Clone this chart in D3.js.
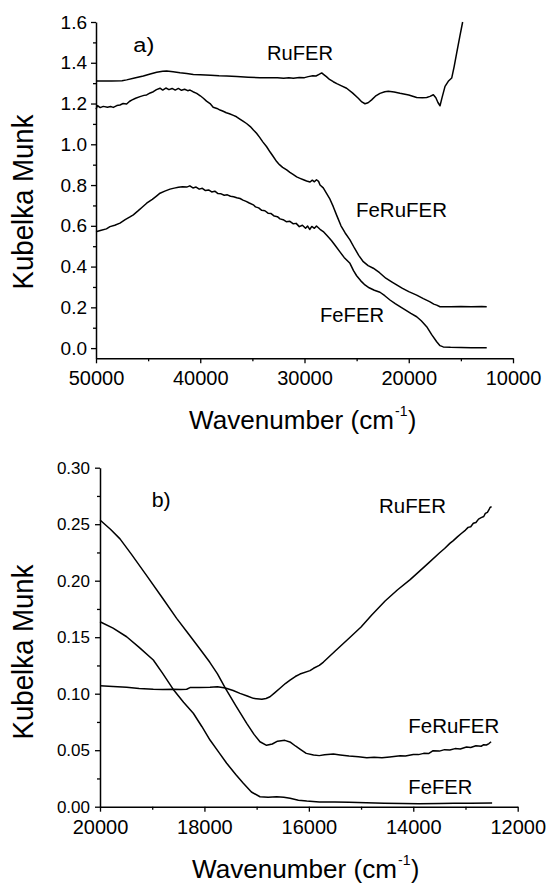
<!DOCTYPE html>
<html><head><meta charset="utf-8">
<script src="https://cdn.jsdelivr.net/npm/d3@7"></script>
<style>
html,body{margin:0;padding:0;background:#fff;}
svg{display:block;}
text{font-family:"Liberation Sans",Arial,Helvetica,sans-serif;fill:#000;}
</style></head><body>
<svg id="chart" width="547" height="886"></svg>
<script>
// ---------- Panel a) : 50000 - 10000 cm-1 ----------
const aXTicks = [50000, 40000, 30000, 20000, 10000];
const aXMinor = [45000, 35000, 25000, 15000];
const aYTicks = [0, 0.2, 0.4, 0.6, 0.8, 1.0, 1.2, 1.4, 1.6];
const aYMinor = [0.1, 0.3, 0.5, 0.7, 0.9, 1.1, 1.3, 1.5];

const aRuFER = [[50000,1.311],[48500,1.311],[47500,1.312],[47060,1.316],[46300,1.325],[45460,1.335],[44800,1.345],[44180,1.353],[43600,1.358],[43220,1.36],[42600,1.356],[41940,1.351],[41300,1.347],[40660,1.343],[40000,1.341],[39000,1.339],[38200,1.336],[37460,1.335],[36500,1.332],[35400,1.329],[34260,1.327],[33300,1.326],[32600,1.327],[32000,1.324],[31500,1.327],[31070,1.324],[30500,1.328],[30000,1.327],[29640,1.332],[29200,1.336],[28900,1.335],[28600,1.343],[28350,1.35],[28150,1.342],[27900,1.332],[27600,1.318],[27240,1.307],[26900,1.298],[26500,1.288],[25960,1.275],[25400,1.252],[24840,1.226],[24500,1.208],[24200,1.199],[23900,1.204],[23560,1.218],[23200,1.236],[22760,1.25],[22300,1.258],[21960,1.26],[21400,1.257],[20840,1.25],[20000,1.242],[19240,1.23],[18700,1.228],[18280,1.23],[17960,1.235],[17640,1.243],[17400,1.228],[17200,1.205],[17000,1.189],[16800,1.23],[16520,1.284],[16210,1.309],[15880,1.325],[15650,1.38],[15400,1.448],[15100,1.53],[14830,1.6]];

const aFeRuFER = [[50000,1.172],[49850,1.19],[49600,1.18],[49300,1.186],[48900,1.182],[48600,1.185],[48340,1.181],[48000,1.19],[47700,1.193],[47400,1.2],[47060,1.198],[46800,1.21],[46580,1.217],[46200,1.226],[45780,1.234],[45400,1.24],[45140,1.242],[44800,1.252],[44500,1.258],[44200,1.268],[43860,1.275],[43600,1.266],[43300,1.276],[43000,1.268],[42700,1.274],[42400,1.266],[42100,1.274],[41800,1.265],[41500,1.27],[41200,1.263],[40980,1.266],[40700,1.258],[40340,1.25],[40000,1.238],[39700,1.226],[39400,1.212],[39060,1.2],[38760,1.182],[38400,1.176],[38100,1.168],[37800,1.162],[37500,1.155],[37200,1.15],[36820,1.142],[36520,1.135],[36200,1.124],[35900,1.114],[35560,1.102],[35200,1.087],[34900,1.07],[34600,1.054],[34300,1.034],[34000,1.012],[33630,0.988],[33300,0.962],[33000,0.94],[32670,0.915],[32400,0.9],[32100,0.887],[31710,0.874],[31400,0.862],[31100,0.852],[30750,0.84],[30430,0.833],[30100,0.826],[29800,0.82],[29470,0.815],[29250,0.824],[29050,0.816],[28850,0.826],[28650,0.818],[28510,0.8],[28200,0.786],[27900,0.76],[27600,0.735],[27240,0.694],[26900,0.65],[26500,0.6],[26100,0.565],[25640,0.531],[25200,0.49],[24800,0.455],[24360,0.424],[23900,0.405],[23400,0.392],[22800,0.37],[22200,0.343],[21600,0.324],[21160,0.31],[20600,0.293],[20000,0.277],[19240,0.26],[18600,0.243],[18000,0.228],[17600,0.216],[17320,0.211],[17000,0.203],[16000,0.203],[15000,0.204],[14000,0.203],[13000,0.204],[12520,0.203]];

const aFeFER = [[50000,0.571],[49500,0.578],[49000,0.585],[48660,0.596],[48200,0.603],[47700,0.613],[47200,0.63],[46700,0.645],[46420,0.654],[46000,0.672],[45600,0.69],[45140,0.711],[44600,0.73],[44200,0.746],[43860,0.76],[43400,0.77],[42900,0.78],[42500,0.785],[42100,0.789],[41700,0.792],[41300,0.79],[41000,0.796],[40700,0.786],[40400,0.79],[40100,0.78],[39800,0.784],[39500,0.773],[39200,0.776],[38900,0.766],[38600,0.77],[38300,0.758],[38000,0.757],[37700,0.75],[37400,0.752],[37100,0.745],[36800,0.743],[36500,0.738],[36180,0.734],[35900,0.726],[35600,0.72],[35300,0.712],[34910,0.703],[34700,0.693],[34400,0.688],[34100,0.676],[33800,0.674],[33500,0.662],[33200,0.66],[32900,0.648],[32600,0.645],[32350,0.634],[32050,0.63],[31750,0.62],[31400,0.622],[31070,0.61],[30800,0.612],[30500,0.596],[30200,0.603],[29900,0.588],[29700,0.599],[29500,0.582],[29300,0.597],[29050,0.588],[28850,0.599],[28510,0.583],[28200,0.572],[27800,0.55],[27400,0.527],[27000,0.5],[26600,0.472],[26200,0.445],[25640,0.416],[25300,0.38],[25000,0.355],[24600,0.33],[24200,0.31],[23800,0.296],[23300,0.284],[22760,0.274],[22300,0.257],[21800,0.236],[21300,0.218],[20840,0.203],[20300,0.186],[19800,0.17],[19240,0.154],[18800,0.134],[18280,0.105],[17800,0.066],[17320,0.031],[17000,0.012],[16690,0.006],[16000,0.004],[15000,0.003],[14000,0.002],[13000,0.002],[12520,0.002]];

const aLabels = [
  {text: "a)", w: 46420, v: 1.453, len: 21},
  {text: "RuFER", w: 33600, v: 1.413, len: 66},
  {text: "FeRuFER", w: 25060, v: 0.645, len: 91},
  {text: "FeFER", w: 28510, v: 0.127, len: 64}
];

// ---------- Panel b) : 20000 - 12000 cm-1 ----------
const bXTicks = [20000, 18000, 16000, 14000, 12000];
const bXMinor = [19000, 17000, 15000, 13000];
const bYTicks = [0, 0.05, 0.10, 0.15, 0.20, 0.25, 0.30];
const bYMinor = [0.025, 0.075, 0.125, 0.175, 0.225, 0.275];

const bRuFER = [[20000,0.107],[19750,0.1063],[19490,0.1057],[19250,0.1047],[18979,0.1039],[18800,0.1037],[18600,0.104],[18450,0.1038],[18340,0.1039],[18276,0.1054],[18100,0.1055],[17893,0.1057],[17750,0.1062],[17600,0.105],[17450,0.1028],[17319,0.1003],[17180,0.098],[17062,0.0959],[16900,0.095],[16820,0.0958],[16744,0.0973],[16650,0.101],[16553,0.1048],[16450,0.109],[16360,0.1121],[16260,0.1152],[16170,0.1174],[15978,0.1204],[15910,0.1225],[15800,0.125],[15720,0.128],[15500,0.1375],[15210,0.150],[15000,0.159],[14800,0.1695],[14540,0.182],[14300,0.192],[14060,0.201],[13890,0.208],[13700,0.216],[13500,0.2245],[13400,0.2285],[13300,0.233],[13233,0.2355],[13150,0.239],[13080,0.2418],[13000,0.2448],[12950,0.2472],[12900,0.2478],[12850,0.2508],[12800,0.2515],[12750,0.2545],[12700,0.2558],[12650,0.2568],[12620,0.2595],[12580,0.2605],[12550,0.2628],[12530,0.2648],[12500,0.2655]];

const bFeRuFER = [[20000,0.2537],[19800,0.2455],[19617,0.237],[19400,0.2235],[19106,0.2045],[18800,0.1845],[18532,0.1667],[18340,0.155],[18100,0.1405],[17900,0.128],[17750,0.1175],[17600,0.105],[17400,0.0895],[17190,0.0738],[17050,0.064],[16936,0.0575],[16810,0.0543],[16700,0.0555],[16600,0.058],[16460,0.0587],[16350,0.057],[16250,0.0535],[16170,0.051],[16050,0.0472],[15910,0.0457],[15800,0.0452],[15700,0.046],[15530,0.0466],[15400,0.0458],[15230,0.0448],[15050,0.0441],[14890,0.0434],[14750,0.0437],[14600,0.0434],[14450,0.0440],[14250,0.0450],[14150,0.0449],[14000,0.0462],[13900,0.0461],[13800,0.0472],[13700,0.0471],[13620,0.0496],[13500,0.0492],[13400,0.0505],[13300,0.0501],[13200,0.0514],[13100,0.0511],[12980,0.0528],[12900,0.0524],[12800,0.0539],[12700,0.0535],[12650,0.0549],[12600,0.0546],[12550,0.0559],[12510,0.0575]];

const bFeFER = [[20000,0.1637],[19750,0.158],[19490,0.1504],[19250,0.141],[18979,0.1298],[18800,0.118],[18600,0.104],[18400,0.0925],[18213,0.0827],[18050,0.071],[17893,0.059],[17730,0.0485],[17574,0.0384],[17400,0.0285],[17255,0.0207],[17100,0.013],[16936,0.0088],[16780,0.0083],[16616,0.0088],[16480,0.0084],[16360,0.0074],[16200,0.0058],[16040,0.005],[15800,0.0042],[15500,0.0042],[15230,0.004],[14900,0.0034],[14560,0.003],[14200,0.0028],[13890,0.0027],[13500,0.0028],[13220,0.003],[12900,0.0031],[12490,0.0033]];

const bLabels = [
  {text: "b)", w: 19010, v: 0.2652, len: 19},
  {text: "RuFER", w: 14656, v: 0.2596, len: 67},
  {text: "FeRuFER", w: 14095, v: 0.0655, len: 91},
  {text: "FeFER", w: 14095, v: 0.0112, len: 64}
];

const svg = d3.select("#chart");

function panel(cfg) {
  const x = d3.scaleLinear().domain(cfg.xDomain).range(cfg.xRange);
  const y = d3.scaleLinear().domain(cfg.yDomain).range(cfg.yRange);
  const g = svg.append("g");
  const y0 = cfg.yRange[0], x0 = cfg.xRange[0];

  // x axis
  const gx = g.append("g").attr("transform", `translate(0,${y0})`)
    .call(d3.axisBottom(x).tickValues(cfg.xTicks).tickSize(5).tickSizeOuter(0).tickFormat(d3.format("d")));
  gx.append("g").call(d3.axisBottom(x).tickValues(cfg.xMinor).tickSize(3).tickSizeOuter(0).tickFormat(""))
    .select(".domain").remove();
  gx.selectAll(".domain").attr("stroke-width", 1.5).attr("stroke", "#000");
  gx.selectAll(".tick line").attr("stroke-width", 1.3).attr("stroke", "#000");
  gx.selectAll(".tick text").attr("font-size", 20).attr("dy", 0).attr("y", cfg.xLabelOff).attr("fill", "#000");

  // y axis
  const gy = g.append("g").attr("transform", `translate(${x0},0)`)
    .call(d3.axisLeft(y).tickValues(cfg.yTicks).tickSize(5).tickSizeOuter(0).tickFormat(d3.format(cfg.yFmt)));
  gy.append("g").call(d3.axisLeft(y).tickValues(cfg.yMinor).tickSize(3).tickSizeOuter(0).tickFormat(""))
    .select(".domain").remove();
  gy.selectAll(".domain").attr("stroke-width", 1.5).attr("stroke", "#000");
  gy.selectAll(".tick line").attr("stroke-width", 1.3).attr("stroke", "#000");
  gy.selectAll(".tick text").attr("font-size", cfg.yLabelSize).attr("x", cfg.yLabelX).attr("fill", "#000");

  // curves
  const line = d3.line().x(d => x(d[0])).y(d => y(d[1]));
  cfg.series.forEach(s => {
    g.append("path").datum(s).attr("d", line)
      .attr("fill", "none").attr("stroke", "#000").attr("stroke-width", 1.5)
      .attr("stroke-linejoin", "round");
  });

  // curve labels
  cfg.labels.forEach(l => {
    g.append("text").attr("x", x(l.w)).attr("y", y(l.v))
      .attr("font-size", 20).attr("textLength", l.len).attr("lengthAdjust", "spacingAndGlyphs")
      .text(l.text);
  });

  // x title
  const tb = cfg.xTitleBase, tx = cfg.xTitleX;
  g.append("text").attr("x", tx).attr("y", tb).attr("font-size", 25)
    .attr("textLength", 205).attr("lengthAdjust", "spacingAndGlyphs").text("Wavenumber (cm");
  g.append("text").attr("x", tx + 206).attr("y", tb - 13).attr("font-size", 14).text("-1");
  g.append("text").attr("x", tx + 219).attr("y", tb).attr("font-size", 25).text(")");

  // y title
  g.append("text").attr("transform", `translate(33,${cfg.yTitleC}) rotate(-90)`)
    .attr("text-anchor", "middle").attr("font-size", 30)
    .attr("textLength", 175).attr("lengthAdjust", "spacingAndGlyphs").text("Kubelka Munk");
}

panel({
  xDomain: [50000, 10000], xRange: [96, 513],
  yDomain: [-0.05, 1.6], yRange: [358.3, 22],
  xTicks: aXTicks, xMinor: aXMinor, yTicks: aYTicks, yMinor: aYMinor,
  yFmt: ".1f", yLabelSize: 19, yLabelX: -9, xLabelOff: 27,
  series: [aRuFER, aFeRuFER, aFeFER], labels: aLabels,
  xTitleBase: 429, xTitleX: 189, yTitleC: 202
});

panel({
  xDomain: [20000, 12000], xRange: [100, 517.7],
  yDomain: [0, 0.30], yRange: [806.7, 467.7],
  xTicks: bXTicks, xMinor: bXMinor, yTicks: bYTicks, yMinor: bYMinor,
  yFmt: ".2f", yLabelSize: 17, yLabelX: -10, xLabelOff: 27.5,
  series: [bRuFER, bFeRuFER, bFeFER], labels: bLabels,
  xTitleBase: 878, xTitleX: 192, yTitleC: 652
});
</script>
</body></html>
